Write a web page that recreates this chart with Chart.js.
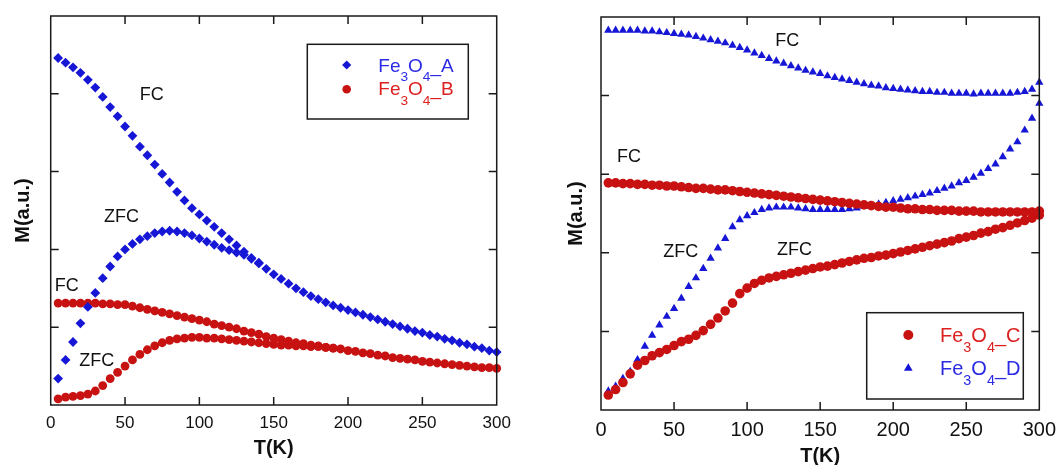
<!DOCTYPE html>
<html><head><meta charset="utf-8">
<script src="https://cdn.jsdelivr.net/npm/chart.js@4.4.1/dist/chart.umd.min.js"></script>
<style>
html,body{margin:0;padding:0;background:#fff;overflow:hidden;width:1064px;height:465px;}
#c1{position:absolute;left:0;top:0;}
#c2{position:absolute;left:540px;top:0;}
</style></head><body>
<canvas id="c1" width="520" height="470"></canvas>
<canvas id="c2" width="524" height="470"></canvas>
<script>
// ---------- data (T in K, M in a.u.) ----------
const temps = [5,10,15,20,25,30,35,40,45,50,55,60,65,70,75,80,85,90,95,100,105,110,115,120,125,130,135,140,145,150,155,160,165,170,175,180,185,190,195,200,205,210,215,220,225,230,235,240,245,250,255,260,265,270,275,280,285,290,295,300];
const tempsZfcA = [5,10,15,20,25,30,35,40,45,50,55,60,65,70,75,80,85,90,95,100,105,110,115,120,125,130,135,140];
const tempsZfcB = [5,10,15,20,25,30,35,40,45,50,55,60,65,70,75,80,85,90,95,100,105,110,115,120,125,130,135,140,145,150,155,160,165,170,175,180,185,190];

const fcA  = [4.46,4.40,4.34,4.27,4.18,4.08,3.96,3.83,3.71,3.58,3.46,3.32,3.21,3.09,2.97,2.86,2.74,2.63,2.53,2.45,2.37,2.29,2.21,2.13,2.05,1.97,1.89,1.82,1.75,1.68,1.62,1.56,1.50,1.45,1.40,1.36,1.32,1.28,1.25,1.22,1.19,1.16,1.13,1.10,1.07,1.04,1.01,0.98,0.95,0.93,0.90,0.88,0.85,0.83,0.80,0.78,0.75,0.73,0.70,0.68];
const zfcA = [0.34,0.58,0.81,1.05,1.26,1.44,1.63,1.78,1.91,2.00,2.07,2.13,2.17,2.21,2.23,2.24,2.23,2.21,2.18,2.14,2.10,2.06,2.02,1.99,1.96,1.93,1.88,1.83];
const fcB  = [1.31,1.31,1.31,1.31,1.31,1.31,1.30,1.30,1.29,1.29,1.27,1.25,1.23,1.21,1.19,1.17,1.15,1.13,1.11,1.09,1.07,1.04,1.02,1.00,0.98,0.95,0.93,0.91,0.88,0.86,0.84,0.82,0.80,0.79,0.77,0.76,0.74,0.73,0.72,0.70,0.69,0.67,0.66,0.64,0.63,0.61,0.60,0.59,0.58,0.56,0.55,0.54,0.53,0.52,0.51,0.50,0.49,0.48,0.48,0.47];
const zfcB = [0.08,0.10,0.11,0.12,0.14,0.18,0.25,0.34,0.42,0.50,0.58,0.65,0.71,0.76,0.80,0.83,0.85,0.86,0.87,0.87,0.86,0.86,0.85,0.84,0.83,0.82,0.81,0.80,0.79,0.78,0.77,0.77,0.76,0.76,0.75,0.75,0.74,0.73];

const fcC  = [2.89,2.89,2.88,2.88,2.87,2.87,2.86,2.86,2.85,2.85,2.84,2.83,2.82,2.82,2.81,2.80,2.80,2.79,2.78,2.77,2.76,2.75,2.74,2.73,2.72,2.71,2.70,2.69,2.68,2.67,2.66,2.65,2.64,2.63,2.62,2.61,2.60,2.59,2.58,2.58,2.57,2.56,2.56,2.55,2.55,2.54,2.54,2.54,2.53,2.53,2.53,2.52,2.52,2.52,2.52,2.52,2.52,2.52,2.52,2.53];
const zfcC = [0.19,0.26,0.35,0.46,0.57,0.63,0.69,0.73,0.77,0.82,0.87,0.90,0.95,1.01,1.09,1.17,1.26,1.36,1.48,1.55,1.61,1.65,1.68,1.70,1.72,1.74,1.76,1.78,1.80,1.82,1.83,1.85,1.87,1.89,1.91,1.93,1.94,1.96,1.97,1.99,2.01,2.03,2.05,2.07,2.09,2.11,2.13,2.15,2.18,2.20,2.22,2.25,2.27,2.30,2.32,2.35,2.38,2.41,2.44,2.48];
const fcD  = [4.83,4.83,4.83,4.83,4.83,4.82,4.82,4.81,4.80,4.79,4.78,4.77,4.75,4.73,4.71,4.69,4.67,4.64,4.61,4.58,4.54,4.51,4.47,4.44,4.41,4.38,4.35,4.32,4.30,4.28,4.25,4.23,4.21,4.19,4.17,4.15,4.13,4.12,4.10,4.09,4.08,4.07,4.06,4.05,4.05,4.04,4.04,4.03,4.03,4.03,4.02,4.03,4.03,4.03,4.03,4.03,4.04,4.05,4.08,4.17];
const zfcD = [0.24,0.30,0.40,0.49,0.64,0.81,0.95,1.08,1.19,1.29,1.42,1.57,1.68,1.80,1.93,2.06,2.18,2.33,2.42,2.47,2.51,2.55,2.57,2.58,2.58,2.58,2.57,2.56,2.55,2.55,2.55,2.55,2.55,2.56,2.57,2.59,2.60,2.62,2.64,2.66,2.68,2.70,2.72,2.74,2.76,2.79,2.82,2.85,2.89,2.92,2.96,3.01,3.07,3.13,3.22,3.32,3.41,3.56,3.71,3.90];

const xTickVals = [0,50,100,150,200,250,300];
const yTickVals = [1,2,3,4];
const xTitle = 'T(K)';
const yTitle = 'M(a.u.)';
const legendLeft = ['Fe3O4_A','Fe3O4_B'];
const legendRight = ['Fe3O4_C','Fe3O4_D'];
const notesLeft  = [{text:'FC',x:68,y:3.98},{text:'ZFC',x:47.7,y:2.42},{text:'FC',x:10.8,y:1.53},{text:'ZFC',x:30.9,y:0.57}];
const notesRight = [{text:'FC',x:127.5,y:4.70},{text:'FC',x:19.2,y:3.22},{text:'ZFC',x:54.6,y:2.01},{text:'ZFC',x:132.5,y:2.04}];

// ---------- styling ----------
const FONT = '"Liberation Sans", Arial, Helvetica, sans-serif';
const BLUE = '#1616d6';
const RED  = '#c81212';
const BLUE_TXT = '#2a2ae6';
const RED_TXT = '#dc2020';

function pts(xs, ys){ return ys.map((v,i)=>({x:xs[i], y:v})); }

function ds(label, xs, ys, color, style, r){
  return {label, data: pts(xs, ys), showLine:false, clip:false,
    pointStyle: style, pointRadius: r, pointHoverRadius: r,
    backgroundColor: color, borderColor: color, pointBorderWidth: 0, borderWidth: 0};
}

function drawFormula(ctx, x, base, text, size, color){
  ctx.fillStyle = color; ctx.textAlign = 'left'; ctx.textBaseline = 'alphabetic';
  const parts = text.match(/\d+|[^\d]+/g);
  parts.forEach(p=>{
    const sub = /^\d+$/.test(p);
    const fs = sub ? size*0.72 : size;
    ctx.font = fs + 'px ' + FONT;
    ctx.fillText(p, x, base + (sub ? size*0.52 : 0));
    x += ctx.measureText(p).width;
  });
}

function drawSymbol(ctx, style, r, x, y, color){
  ctx.fillStyle = color;
  if (Chart.helpers && Chart.helpers.drawPoint){
    Chart.helpers.drawPoint(ctx, {pointStyle: style, radius: r, borderWidth: 0, rotation: 0}, x, y);
  }
}

const decor = {
  id: 'decor',
  afterDatasetsDraw(chart){
    const o = chart.options.plugins.decor;
    const {ctx, chartArea: a} = chart;
    const xs = chart.scales.x, ys = chart.scales.y;
    ctx.save();
    ctx.strokeStyle = '#1a1a1a'; ctx.lineWidth = 1.5;
    ctx.beginPath();
    ctx.rect(a.left, a.top, a.right - a.left, a.bottom - a.top);
    xTickVals.slice(1, -1).forEach(v=>{
      const p = xs.getPixelForValue(v);
      ctx.moveTo(p, a.bottom); ctx.lineTo(p, a.bottom - o.tickLen);
      ctx.moveTo(p, a.top); ctx.lineTo(p, a.top + o.tickLen);
    });
    yTickVals.forEach(v=>{
      const p = ys.getPixelForValue(v);
      ctx.moveTo(a.left, p); ctx.lineTo(a.left + o.tickLen, p);
      ctx.moveTo(a.right, p); ctx.lineTo(a.right - o.tickLen, p);
    });
    ctx.stroke();
    // curve annotations
    ctx.fillStyle = '#111'; ctx.font = o.noteSize + 'px ' + FONT;
    ctx.textAlign = 'center'; ctx.textBaseline = 'middle';
    o.notes.forEach(n=> ctx.fillText(n.text, xs.getPixelForValue(n.x), ys.getPixelForValue(n.y)));
    // legend
    const L = o.legend;
    ctx.fillStyle = '#fff';
    ctx.fillRect(L.x, L.y, L.w, L.h);
    ctx.strokeStyle = '#1a1a1a'; ctx.lineWidth = 1.5;
    ctx.strokeRect(L.x, L.y, L.w, L.h);
    L.items.forEach((it, i)=>{
      const d = chart.data.datasets[it.ds];
      drawSymbol(ctx, d.pointStyle, it.r, L.symX, L.symY[i], d.backgroundColor);
      drawFormula(ctx, L.textX, L.base[i], it.text, L.size, it.color);
    });
    ctx.restore();
  }
};

function makeOptions(cfg){
  return {
    responsive: false, animation: false, devicePixelRatio: 1,
    layout: {padding: {left: 0, top: cfg.top, right: cfg.right, bottom: 0}},
    scales: {
      x: {type: 'linear', min: 0, max: 300,
        afterBuildTicks(s){ s.ticks = xTickVals.map(v=>({value: v})); },
        afterFit(s){ s.height = cfg.xHeight; },
        ticks: {font: {size: cfg.tickSize, family: FONT}, color: '#111', padding: cfg.tickPad, maxRotation: 0, autoSkip: false},
        grid: {display: false, drawTicks: false}, border: {display: false},
        title: {display: true, text: xTitle, color: '#111', font: {size: 20, weight: 'bold', family: FONT}, padding: {top: 0, bottom: cfg.xTitlePad}}
      },
      y: {type: 'linear', min: 0, max: 5,
        afterBuildTicks(s){ s.ticks = yTickVals.map(v=>({value: v})); },
        afterFit(s){ s.width = cfg.yWidth; },
        ticks: {display: false},
        grid: {display: false, drawTicks: false}, border: {display: false},
        title: {display: true, text: yTitle, color: '#111', font: {size: 20, weight: 'bold', family: FONT}, padding: {top: cfg.yTitlePad, bottom: 0}}
      }
    },
    plugins: {legend: {display: false}, tooltip: {enabled: false}, decor: cfg.decor}
  };
}

new Chart(document.getElementById('c1'), {
  type: 'scatter',
  data: {datasets: [
    ds('Fe3O4_A FC', temps, fcA, BLUE, 'rectRot', 4.9),
    ds('Fe3O4_A ZFC', tempsZfcA, zfcA, BLUE, 'rectRot', 4.9),
    ds('Fe3O4_B FC', temps, fcB, RED, 'circle', 4.4),
    ds('Fe3O4_B ZFC', tempsZfcB, zfcB, RED, 'circle', 4.4)
  ]},
  options: makeOptions({top: 16, right: 23.3, xHeight: 65, yWidth: 50.7, tickSize: 17, tickPad: 8, xTitlePad: 10, yTitlePad: 11,
    decor: {tickLen: 8, noteSize: 18, notes: notesLeft,
      legend: {x: 307.3, y: 44.3, w: 161, h: 74.7, symX: 346.7, symY: [65, 89.3], textX: 378.3, base: [71.5, 95], size: 19,
        items: [{ds: 0, r: 4.6, text: legendLeft[0], color: BLUE_TXT}, {ds: 2, r: 4.3, text: legendLeft[1], color: RED_TXT}]}}
  }),
  plugins: [decor]
});

new Chart(document.getElementById('c2'), {
  type: 'scatter',
  data: {datasets: [
    ds('Fe3O4_C FC', temps, fcC, RED, 'circle', 4.8),
    ds('Fe3O4_C ZFC', temps, zfcC, RED, 'circle', 4.8),
    ds('Fe3O4_D FC', temps, fcD, BLUE, 'triangle', 4.8),
    ds('Fe3O4_D ZFC', temps, zfcD, BLUE, 'triangle', 4.8)
  ]},
  options: makeOptions({top: 17, right: 20, xHeight: 60, yWidth: 61, tickSize: 20, tickPad: 8, xTitlePad: 2, yTitlePad: 24.7,
    decor: {tickLen: 8, noteSize: 18, notes: notesRight,
      legend: {x: 326.7, y: 312.7, w: 156.6, h: 86.3, symX: 368.3, symY: [335, 368.3], textX: 400, base: [341.7, 375], size: 20,
        items: [{ds: 0, r: 5, text: legendRight[0], color: RED_TXT}, {ds: 2, r: 5, text: legendRight[1], color: BLUE_TXT}]}}
  }),
  plugins: [decor]
});
</script>
</body></html>
